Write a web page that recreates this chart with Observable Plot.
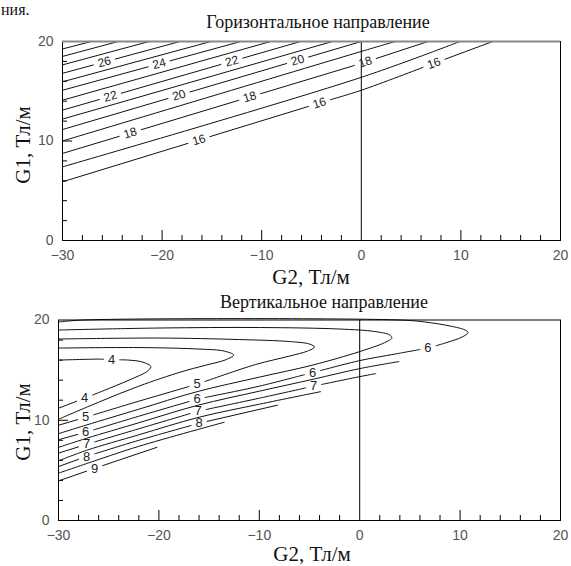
<!DOCTYPE html>
<html><head><meta charset="utf-8">
<script src="https://cdn.jsdelivr.net/npm/d3@7"></script>
<script src="https://cdn.jsdelivr.net/npm/@observablehq/plot@0.6"></script>
<style>
body{margin:0;background:#fff}
#root{position:relative;width:571px;height:566px;overflow:hidden;background:#fff}
#root > svg{position:absolute;left:0}
</style></head><body><div id="root"></div>
<script>
// ---- axes ----
const xTickLabels = [-30, -20, -10, 0, 10, 20];
const yTickLabels = [0, 10, 20];
const xMinorTicks = [-28,-26,-24,-22,-18,-16,-14,-12,-8,-6,-4,-2,2,4,6,8,12,14,16,18];
const xMajorTicks = [-20, -10, 10];
const yMinorTicks = [2,4,6,8,12,14,16,18];
const yMajorTicks = [10];

// ---- top panel: horizontal direction contours ----
const hLevels  = [16, 17, 18, 19, 20, 21, 22, 23, 24, 25, 26, 27, 28, 29];
const hLeftG1  = [5.9, 7.4, 8.75, 10.0, 11.15, 12.2, 13.1, 14.1, 15.1, 15.95, 16.8, 17.65, 18.5, 19.25]; // G1 at G2=-30
const hZeroG1  = [15.1, 16.4, 17.8, 19.0, null, null, null, null, null, null, null, null, null, null]; // G1 at G2=0
const hTopG2   = [13.2, 9.9, 6.7, 3.4, 0.0, -2.9, -6.1, -9.1, -12.1, -15.1, -18.2, -21.3, -24.4, -27.1]; // G2 at G1=20
const hLabelLevel = [26, 24, 22, 20, 18, 16, 22, 20, 18, 16, 18, 16];
const hLabelG2    = [-25.8, -20.3, -13.0, -6.4, 0.4, 7.3, -25.2, -18.3, -11.2, -4.2, -23.2, -16.3];

// ---- bottom panel: vertical direction contours [G2, G1] ----
const vLevels = [4, 4.5, 5, 5.5, 6, 6.5, 7, 7.5, 8, 8.5, 9];
const v40 = [[-30,16.0],[-26,16.1],[-23,16.0],[-21.6,15.8],[-20.8,15.35],[-21.2,14.85],[-22.3,14.3],[-24.9,13.2],[-27.4,12.2],[-30,11.2]];
const v45 = [[-30,17.2],[-22,17.25],[-16,17.1],[-13.5,16.9],[-12.55,16.5],[-13.3,16.05],[-15.5,15.45],[-17.7,14.85],[-22,13.4],[-26,11.8],[-30,10.1]];
const v50 = [[-30,18.1],[-20,18.2],[-12,18.05],[-7,17.85],[-5,17.6],[-4.5,17.3],[-5.2,16.9],[-7,16.4],[-10.4,15.55],[-16.2,13.6],[-22,11.9],[-27.3,10.3],[-30,9.5]];
const v55 = [[-30,19.0],[-20,19.2],[-10,19.25],[-2,19.1],[1.5,18.85],[3.0,18.5],[3.2,18.2],[2.5,17.75],[0,16.85],[-4.7,15.5],[-10,14.3],[-16.2,12.85],[-22,11.1],[-27.3,9.5],[-30,8.66]];
const v60 = [[-30,19.8],[-27.5,20],[4,20],[6.5,19.8],[9,19.4],[10.5,19.0],[10.8,18.75],[10.2,18.3],[8.5,17.7],[6.8,17.2],[3.5,16.6],[0,15.95],[-4.7,14.75],[-10,13.4],[-16.2,12.1],[-22,10.4],[-27.3,8.8],[-30,8.06]];
const v65 = [[-30,7.29],[-27.2,8.2],[-22,9.75],[-16.1,11.5],[-10,12.9],[-4.6,14.1],[0,15.15],[3.9,15.85]];
const v70 = [[-30,6.72],[-27.2,7.6],[-22,9.15],[-16.1,10.9],[-10,12.2],[-4.6,13.4],[0,14.35],[1.6,14.65]];
const v75 = [[-30,5.95],[-27.2,7.0],[-22,8.55],[-16,10.3],[-10,11.6],[-3.9,12.85]];
const v80 = [[-30,5.38],[-27.2,6.4],[-22,8.0],[-16,9.7],[-8.2,11.5]];
const v85 = [[-30,4.72],[-26.4,5.95],[-22,7.4],[-13.5,9.8]];
const v90 = [[-30,3.95],[-26.4,5.2],[-20.2,7.3]];
const vLines = [v40, v45, v50, v55, v60, v65, v70, v75, v80, v85, v90];
const vLabelLevel  = [4, 4, 5, 5, 6, 6, 7, 7, 8, 8, 9, 6, 7, 6];
const vLabelG2     = [-24.7, -27.4, -16.2, -27.3, -16.2, -27.3, -16.1, -27.2, -16.0, -27.2, -26.4, -4.7, -4.6, 6.8];
const vLabelBranch = ["u", "l", "l", "l", "l", "l", "l", "l", "l", "l", "l", "l", "l", "l"];

// ---- geometry helpers (split lines around their labels) ----
function pointAt(pts, s) {
  const i = Math.max(0, Math.min(Math.floor(s), pts.length - 2)), t = s - i;
  return [pts[i][0] + t * (pts[i+1][0] - pts[i][0]), pts[i][1] + t * (pts[i+1][1] - pts[i][1])];
}
function branchRange(pts, branch) {
  let tip = 0;
  pts.forEach((p, i) => { if (p[0] > pts[tip][0]) tip = i; });
  return (branch === "l" && tip < pts.length - 1) ? [tip, pts.length - 1] : [0, tip];
}
function locate(pts, x, branch) {
  const [lo, hi] = branchRange(pts, branch);
  for (let i = lo; i < hi; i++) {
    const x0 = pts[i][0], x1 = pts[i+1][0];
    if (x0 !== x1 && (x - x0) * (x - x1) <= 0) return i + (x - x0) / (x1 - x0);
  }
  return Math.abs(pts[lo][0] - x) < Math.abs(pts[hi][0] - x) ? lo : hi;
}
function sub(pts, a, b) {
  const r = [pointAt(pts, a)];
  for (let i = Math.floor(a) + 1; i < b; i++) r.push(pts[i]);
  r.push(pointAt(pts, b));
  return r;
}
function build(lines, labels, kx, ky, rotate) {
  const segs = [], labs = [];
  let id = 0;
  for (const {level, pts} of lines) {
    const cuts = [];
    for (const L of labels.filter(l => l.level === level)) {
      const s = locate(pts, L.x, L.branch);
      const p = pointAt(pts, s);
      const i = Math.max(0, Math.min(Math.floor(s), pts.length - 2));
      let ang = -Math.atan2((pts[i+1][1] - pts[i][1]) * ky, (pts[i+1][0] - pts[i][0]) * kx) * 180 / Math.PI;
      if (ang > 90) ang -= 180; if (ang < -90) ang += 180;
      labs.push({x: p[0], y: p[1], text: L.text, rotate: rotate ? ang : 0});
      const a = locate(pts, L.x - L.hw, L.branch), b = locate(pts, L.x + L.hw, L.branch);
      cuts.push([Math.min(a, b), Math.max(a, b)]);
    }
    cuts.sort((u, v) => u[0] - v[0]);
    let s0 = 0;
    const pieces = [];
    for (const [a, b] of cuts) { if (a > s0) pieces.push(sub(pts, s0, a)); s0 = Math.max(s0, b); }
    if (s0 < pts.length - 1) pieces.push(sub(pts, s0, pts.length - 1));
    for (const pc of pieces) { id++; pc.forEach(([x, y]) => segs.push({x, y, id})); }
  }
  return {segs, labs};
}

const W = 571;
function panel({height, mt, mb, ml, mr, lines, labels, rotate, labelSize, topGray}) {
  const pw = W - ml - mr, ph = height - mt - mb;
  const {segs, labs} = build(lines, labels, pw / 50, ph / 20, rotate);
  return Plot.plot({
    width: W, height,
    marginTop: mt, marginBottom: mb, marginLeft: ml, marginRight: mr,
    x: {domain: [-30, 20], label: null},
    y: {domain: [0, 20], label: null},
    style: {fontFamily: "'Liberation Sans', Arial, sans-serif", fontSize: "14px", color: "#555", background: "transparent"},
    marks: [
      Plot.ruleX(xMinorTicks, {x: d => d, stroke: "#000", insetTop: ph - 5}),
      Plot.ruleX(xMajorTicks, {x: d => d, stroke: "#000", insetTop: ph - 10}),
      Plot.ruleY(yMinorTicks, {y: d => d, stroke: "#000", insetRight: pw - 5}),
      Plot.ruleY(yMajorTicks, {y: d => d, stroke: "#000", insetRight: pw - 10}),
      Plot.line(segs, {x: "x", y: "y", z: "id", curve: "catmull-rom", stroke: "#111", strokeWidth: 1}),
      Plot.ruleX([0], {stroke: "#000", strokeWidth: 1}),
      Plot.frame({stroke: "#000", strokeWidth: 1}),
      ...(topGray ? [Plot.ruleY([20], {stroke: "#888", strokeWidth: 2})] : []),
      Plot.text(labs, {x: "x", y: "y", text: "text", rotate: "rotate", fontSize: labelSize, fill: "#222", fontFamily: "'Liberation Sans', Arial, sans-serif"}),
      Plot.axisX({ticks: xTickLabels, tickSize: 0, tickPadding: 10, fill: "#555", fontSize: 14}),
      Plot.axisY({ticks: yTickLabels, tickSize: 0, tickPadding: 9, fill: "#555", fontSize: 14})
    ]
  });
}

const topLines = hLevels.map((level, i) => {
  const pts = [[-30, hLeftG1[i]]];
  if (hZeroG1[i] != null) pts.push([0, hZeroG1[i]]);
  pts.push([hTopG2[i], 20]);
  return {level, pts};
});
const topLabels = hLabelLevel.map((level, i) => ({level, x: hLabelG2[i], branch: "u", text: String(level), hw: 1.1}));
const botLines = vLines.map((pts, i) => ({level: vLevels[i], pts}));
const botLabels = vLabelLevel.map((level, i) => ({level, x: vLabelG2[i], branch: vLabelBranch[i], text: String(level), hw: 0.8}));

const root = document.getElementById("root");
const p1 = panel({height: 280, mt: 41, mb: 40, ml: 62, mr: 11, lines: topLines, labels: topLabels, rotate: true, labelSize: 12, topGray: true});
p1.style.top = "0px";
root.appendChild(p1);
const p2 = panel({height: 286, mt: 39.5, mb: 46, ml: 58, mr: 11, lines: botLines, labels: botLabels, rotate: false, labelSize: 13, topGray: false});
p2.style.top = "280px";
root.appendChild(p2);

// ---- titles & axis titles ----
const ns = "http://www.w3.org/2000/svg";
const ov = document.createElementNS(ns, "svg");
ov.setAttribute("width", 571); ov.setAttribute("height", 566);
ov.style.top = "0px"; ov.style.pointerEvents = "none";
const texts = [
  {t: "ния.", x: 1, y: 15, size: 16, anchor: "start"},
  {t: "Горизонтальное направление", x: 318, y: 28, size: 18, anchor: "middle"},
  {t: "G2, Тл/м", x: 311, y: 284, size: 21, anchor: "middle"},
  {t: "G1, Тл/м", x: 30, y: 145, size: 21, anchor: "middle", rot: true},
  {t: "Вертикальное направление", x: 324, y: 308, size: 18, anchor: "middle"},
  {t: "G2, Тл/м", x: 312, y: 561, size: 21, anchor: "middle"},
  {t: "G1, Тл/м", x: 30, y: 422, size: 21, anchor: "middle", rot: true}
];
for (const d of texts) {
  const el = document.createElementNS(ns, "text");
  el.textContent = d.t;
  el.setAttribute("font-family", "'Liberation Serif', 'Times New Roman', serif");
  el.setAttribute("font-size", d.size);
  el.setAttribute("fill", "#111");
  el.setAttribute("text-anchor", d.anchor);
  if (d.rot) el.setAttribute("transform", `translate(${d.x},${d.y}) rotate(-90)`);
  else { el.setAttribute("x", d.x); el.setAttribute("y", d.y); }
  ov.appendChild(el);
}
root.appendChild(ov);
</script></body></html>
